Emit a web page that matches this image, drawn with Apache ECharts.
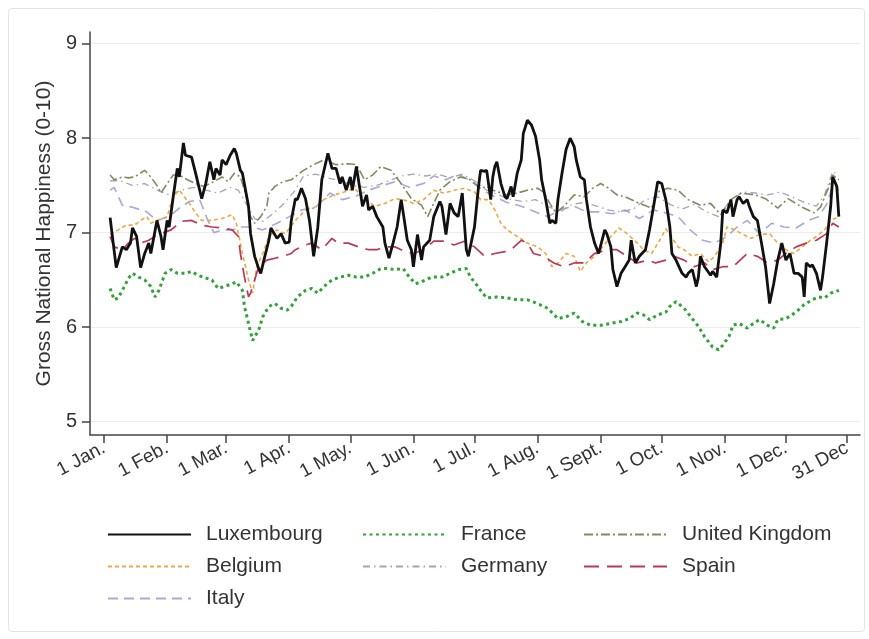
<!DOCTYPE html>
<html>
<head>
<meta charset="utf-8">
<script src="https://cdn.jsdelivr.net/npm/echarts@6/dist/echarts.min.js"></script>
<style>html,body{margin:0;padding:0;background:#fff}#c{width:869px;height:639px}</style>
</head>
<body>
<div id="c"></div>
<script>
// Day of year (0 = 1 Jan, leap year) -> Gross National Happiness (0-10)
const tickDays = [0, 31, 60, 91, 121, 152, 182, 213, 244, 274, 305, 335, 365];
const tickLabels = ['1 Jan.', '1 Feb.', '1 Mar.', '1 Apr.', '1 May.', '1 Jun.', '1 Jul.', '1 Aug.', '1 Sept.', '1 Oct.', '1 Nov.', '1 Dec.', '31 Dec'];
const yTicks = [5, 6, 7, 8, 9];

const luxembourg = [[3,7.16],[6,6.63],[9,6.85],[11,6.82],[13,6.89],[14,7.05],[16,6.96],[18,6.63],[20,6.78],[22,6.89],[23,6.78],[26,7.13],[28,6.96],[29,6.82],[31,7.13],[32,7.06],[34,7.38],[36,7.68],[37,7.59],[39,7.95],[40,7.82],[43,7.80],[45,7.63],[48,7.36],[50,7.52],[52,7.75],[54,7.56],[55,7.68],[57,7.61],[58,7.77],[60,7.72],[62,7.82],[64,7.89],[65,7.84],[67,7.66],[68,7.63],[71,7.28],[72,6.99],[74,6.75],[76,6.62],[77,6.57],[79,6.75],[81,6.92],[82,7.05],[85,6.94],[87,6.99],[89,6.89],[91,6.90],[92,7.13],[94,7.36],[95,7.35],[97,7.47],[99,7.36],[101,7.12],[103,6.75],[105,7.05],[107,7.56],[110,7.84],[112,7.68],[114,7.68],[116,7.52],[117,7.59],[119,7.45],[121,7.59],[122,7.45],[124,7.70],[125,7.56],[127,7.28],[129,7.40],[130,7.24],[132,7.28],[134,7.17],[137,7.06],[138,6.89],[140,6.73],[142,6.89],[144,7.06],[146,7.35],[147,7.21],[149,6.92],[151,6.82],[152,6.64],[154,6.98],[156,6.71],[157,6.85],[160,6.92],[162,7.17],[165,7.33],[166,7.28],[168,6.98],[170,7.31],[172,7.21],[174,7.17],[176,7.42],[178,6.82],[179,6.75],[182,7.06],[184,7.49],[185,7.66],[187,7.65],[188,7.66],[190,7.35],[191,7.59],[192,7.70],[193,7.75],[195,7.52],[197,7.38],[198,7.36],[200,7.49],[201,7.38],[203,7.63],[205,7.77],[206,8.05],[208,8.19],[210,8.14],[212,8.02],[214,7.77],[215,7.56],[217,7.35],[219,7.10],[220,7.13],[222,7.10],[223,7.35],[225,7.63],[227,7.88],[229,8.00],[231,7.91],[232,7.77],[234,7.59],[236,7.56],[237,7.35],[239,7.06],[241,6.89],[243,6.78],[246,7.03],[247,6.99],[249,6.85],[250,6.61],[252,6.43],[254,6.57],[256,6.64],[258,6.71],[259,6.92],[261,6.68],[263,6.75],[266,6.82],[268,7.03],[270,7.28],[272,7.54],[274,7.52],[276,7.35],[278,7.06],[279,6.78],[281,6.71],[284,6.57],[286,6.53],[287,6.57],[289,6.61],[291,6.43],[292,6.53],[293,6.75],[295,6.64],[296,6.61],[298,6.55],[299,6.59],[301,6.53],[303,6.89],[304,7.24],[306,7.21],[308,7.35],[309,7.17],[311,7.35],[312,7.38],[314,7.31],[316,7.35],[317,7.28],[319,7.17],[321,7.13],[323,6.89],[325,6.64],[327,6.25],[329,6.46],[331,6.71],[333,6.89],[335,6.71],[337,6.78],[339,6.57],[341,6.57],[343,6.53],[344,6.32],[345,6.68],[347,6.64],[348,6.66],[350,6.57],[352,6.39],[353,6.53],[355,6.89],[357,7.28],[358,7.59],[360,7.49],[361,7.17]];

const france = [[3,6.41],[5,6.29],[7,6.31],[10,6.43],[12,6.52],[14,6.57],[17,6.53],[20,6.50],[23,6.43],[25,6.32],[27,6.39],[30,6.57],[33,6.61],[36,6.57],[40,6.57],[43,6.59],[46,6.55],[50,6.52],[53,6.50],[56,6.41],[59,6.43],[63,6.46],[65,6.48],[68,6.39],[69,6.22],[71,6.04],[73,5.86],[76,5.97],[78,6.11],[81,6.22],[84,6.25],[87,6.20],[90,6.18],[92,6.22],[95,6.32],[99,6.39],[102,6.41],[105,6.36],[108,6.43],[112,6.50],[116,6.53],[120,6.55],[124,6.53],[128,6.53],[132,6.57],[136,6.62],[139,6.62],[143,6.61],[147,6.62],[150,6.53],[153,6.46],[156,6.48],[161,6.53],[166,6.53],[170,6.57],[174,6.61],[178,6.62],[180,6.53],[183,6.45],[186,6.36],[188,6.31],[193,6.32],[198,6.31],[203,6.29],[208,6.29],[213,6.25],[218,6.20],[223,6.09],[227,6.11],[231,6.15],[235,6.06],[239,6.02],[244,6.02],[249,6.04],[254,6.06],[258,6.09],[262,6.15],[265,6.13],[268,6.08],[272,6.13],[276,6.16],[278,6.22],[281,6.27],[285,6.20],[289,6.09],[292,6.01],[295,5.90],[299,5.79],[302,5.76],[304,5.81],[307,5.90],[309,6.02],[312,6.04],[316,5.99],[319,6.04],[322,6.08],[326,6.02],[329,5.99],[331,6.08],[335,6.09],[338,6.13],[341,6.18],[344,6.24],[348,6.29],[351,6.32],[354,6.31],[357,6.36],[361,6.39]];

const unitedKingdom = [[3,7.61],[5,7.56],[9,7.59],[12,7.58],[15,7.59],[20,7.66],[23,7.59],[26,7.50],[28,7.42],[31,7.52],[34,7.61],[37,7.61],[41,7.56],[45,7.52],[49,7.49],[54,7.54],[58,7.59],[61,7.54],[64,7.63],[67,7.59],[70,7.38],[72,7.17],[74,7.10],[77,7.17],[80,7.28],[81,7.42],[84,7.49],[88,7.54],[92,7.56],[98,7.66],[103,7.72],[108,7.77],[114,7.72],[120,7.73],[124,7.72],[128,7.56],[132,7.61],[136,7.70],[141,7.66],[146,7.52],[151,7.36],[156,7.29],[159,7.17],[162,7.31],[165,7.45],[170,7.54],[175,7.59],[180,7.56],[185,7.47],[188,7.49],[191,7.45],[198,7.40],[203,7.42],[208,7.45],[213,7.47],[216,7.43],[219,7.31],[222,7.21],[226,7.28],[231,7.40],[236,7.38],[240,7.47],[244,7.52],[248,7.47],[252,7.40],[256,7.38],[263,7.31],[269,7.26],[272,7.43],[277,7.47],[282,7.45],[287,7.35],[293,7.29],[298,7.31],[303,7.19],[308,7.35],[313,7.42],[320,7.40],[325,7.36],[331,7.26],[336,7.36],[343,7.27],[349,7.21],[352,7.27],[356,7.48],[358,7.61],[361,7.56]];

const belgium = [[3,6.98],[7,7.03],[11,7.08],[15,7.08],[18,7.13],[21,7.17],[23,7.10],[26,7.13],[31,7.17],[34,7.38],[37,7.45],[42,7.31],[45,7.21],[48,7.13],[53,7.13],[58,7.15],[63,7.19],[65,7.10],[68,6.78],[71,6.50],[73,6.36],[75,6.64],[78,6.78],[81,6.96],[85,7.03],[89,6.99],[94,7.13],[99,7.24],[103,7.26],[108,7.35],[113,7.40],[118,7.43],[123,7.47],[128,7.36],[133,7.28],[138,7.31],[143,7.36],[147,7.35],[152,7.31],[157,7.35],[162,7.45],[167,7.42],[172,7.45],[177,7.47],[182,7.43],[185,7.35],[189,7.35],[192,7.24],[195,7.10],[198,7.03],[203,6.96],[208,6.89],[213,6.85],[217,6.78],[220,6.64],[223,6.68],[227,6.78],[231,6.75],[234,6.59],[237,6.68],[241,6.75],[245,6.85],[249,6.96],[253,7.05],[257,6.99],[262,6.89],[265,6.82],[269,6.78],[273,6.92],[276,7.04],[279,6.95],[282,6.85],[285,6.82],[289,6.75],[293,6.78],[297,6.69],[300,6.75],[304,6.89],[306,7.06],[310,7.03],[314,6.98],[318,6.94],[322,6.98],[327,6.99],[331,6.89],[335,6.82],[339,6.78],[343,6.85],[347,6.92],[350,6.96],[354,7.03],[357,7.13],[361,7.17]];

const germany = [[3,7.55],[8,7.55],[14,7.50],[20,7.52],[26,7.45],[32,7.40],[38,7.45],[44,7.48],[50,7.45],[56,7.42],[62,7.48],[66,7.45],[70,7.30],[74,7.15],[78,7.12],[83,7.20],[88,7.30],[94,7.45],[98,7.60],[104,7.62],[110,7.58],[116,7.55],[122,7.50],[128,7.48],[134,7.50],[140,7.55],[146,7.60],[152,7.62],[158,7.60],[164,7.62],[170,7.58],[176,7.62],[182,7.55],[188,7.45],[194,7.40],[200,7.35],[206,7.33],[212,7.35],[218,7.28],[224,7.22],[230,7.30],[236,7.32],[242,7.28],[248,7.24],[254,7.22],[260,7.25],[266,7.35],[272,7.38],[278,7.30],[284,7.25],[290,7.30],[296,7.22],[302,7.17],[308,7.35],[314,7.43],[320,7.42],[326,7.40],[332,7.43],[338,7.38],[344,7.32],[350,7.28],[354,7.40],[358,7.65],[361,7.60]];

const spain = [[3,6.96],[5,6.85],[9,6.82],[12,6.89],[15,6.94],[18,6.89],[22,6.92],[25,6.96],[28,6.99],[33,7.03],[38,7.12],[43,7.13],[48,7.08],[53,7.06],[58,7.05],[63,7.03],[66,6.96],[67,6.78],[69,6.53],[71,6.32],[72,6.36],[74,6.50],[76,6.64],[80,6.71],[84,6.73],[88,6.75],[92,6.78],[94,6.82],[99,6.87],[102,6.89],[107,6.82],[112,6.94],[115,6.89],[120,6.89],[125,6.85],[130,6.82],[134,6.82],[138,6.85],[143,6.85],[148,6.80],[152,6.78],[157,6.82],[162,6.91],[167,6.91],[172,6.87],[177,6.91],[182,6.85],[187,6.75],[192,6.78],[197,6.80],[200,6.82],[205,6.92],[208,6.89],[211,6.78],[216,6.75],[221,6.68],[226,6.64],[231,6.68],[236,6.68],[241,6.78],[247,6.82],[252,6.82],[257,6.75],[262,6.68],[267,6.71],[271,6.68],[276,6.71],[280,6.75],[285,6.71],[290,6.64],[295,6.68],[299,6.61],[304,6.64],[309,6.64],[316,6.78],[321,6.75],[326,6.68],[331,6.71],[335,6.78],[340,6.85],[345,6.89],[350,6.92],[355,6.99],[358,7.10],[361,7.06]];

const italy = [[3,7.45],[5,7.48],[9,7.29],[14,7.27],[21,7.22],[26,7.13],[32,7.17],[37,7.26],[42,7.33],[47,7.35],[51,7.13],[54,7.00],[58,7.03],[63,7.03],[68,7.06],[73,7.06],[78,7.03],[85,7.10],[91,7.17],[97,7.24],[104,7.27],[111,7.42],[117,7.35],[123,7.38],[130,7.45],[137,7.50],[143,7.54],[150,7.48],[157,7.52],[162,7.60],[168,7.56],[174,7.62],[180,7.55],[186,7.45],[192,7.38],[198,7.32],[205,7.28],[212,7.22],[218,7.17],[225,7.25],[231,7.28],[237,7.22],[243,7.22],[250,7.20],[256,7.24],[263,7.15],[270,7.24],[276,7.21],[282,7.17],[288,7.03],[294,6.92],[300,6.89],[306,6.96],[311,7.06],[316,7.13],[322,6.99],[328,7.10],[334,7.06],[340,7.05],[346,7.13],[351,7.17],[355,7.30],[358,7.50],[361,7.45]];

const FONT = '"Liberation Sans", Arial, Helvetica, sans-serif';
const chart = echarts.init(document.getElementById('c'), null, {renderer: 'canvas'});

function ser(name, data, color, width, type, z) {
  return {
    name: name, type: 'line', data: data, symbol: 'none', showSymbol: false, smooth: false, z: z,
    lineStyle: {color: color, width: width, type: type, cap: 'butt'},
    itemStyle: {color: color},
    emphasis: {disabled: true},
    animation: false
  };
}

const legendCommon = {
  orient: 'vertical', itemWidth: 83, itemHeight: 14, itemGap: 11, top: 519,
  itemStyle: {opacity: 0, borderWidth: 0},
  textStyle: {fontFamily: FONT, fontSize: 21, color: '#333', padding: [0, 0, 0, 10]},
  selectedMode: false
};

chart.setOption({
  backgroundColor: '#fff',
  animation: false,
  graphic: [{type: 'rect', shape: {x: 8.5, y: 8.5, width: 856, height: 623, r: 3}, style: {fill: 'none', stroke: '#e4e4e4', lineWidth: 1}, silent: true}],
  grid: {left: 90, right: 9, top: 32, bottom: 204, containLabel: false},
  xAxis: {
    type: 'value', min: -6.88, max: 371.4,
    axisLine: {show: true, onZero: false, lineStyle: {color: '#444', width: 1.5}},
    axisTick: {show: true, length: 8, customValues: tickDays, lineStyle: {color: '#444', width: 1.5}},
    axisLabel: {customValues: tickDays, rotate: 28, fontSize: 19, fontFamily: FONT, color: '#333', margin: 12,
      formatter: function (v) { const i = tickDays.indexOf(v); return i >= 0 ? tickLabels[i] : ''; }},
    splitLine: {show: false}
  },
  yAxis: {
    type: 'value', min: 4.859, max: 9.124,
    name: 'Gross National Happiness (0-10)', nameLocation: 'middle', nameGap: 26, nameRotate: 90,
    nameTextStyle: {fontFamily: FONT, fontSize: 21, color: '#333'},
    axisLine: {show: true, onZero: false, lineStyle: {color: '#444', width: 1.5}},
    axisTick: {show: true, length: 8, customValues: yTicks, lineStyle: {color: '#444', width: 1.5}},
    axisLabel: {customValues: yTicks, fontSize: 20, fontFamily: FONT, color: '#333', margin: 13},
    splitLine: {show: true, lineStyle: {color: '#ececec', width: 1}}
  },
  legend: [
    Object.assign({left: 102, data: ['Luxembourg', 'Belgium', 'Italy']}, legendCommon),
    Object.assign({left: 357, data: ['France', 'Germany']}, legendCommon),
    Object.assign({left: 578, data: ['United Kingdom', 'Spain']}, legendCommon)
  ],
  series: [
    ser('Italy', italy, '#a9a8d6', 1.6, [10, 6], 2),
    ser('Germany', germany, '#a3a6b6', 1.3, [7, 4, 1.5, 4], 2),
    ser('Belgium', belgium, '#e6a94c', 1.6, [4, 3], 3),
    ser('United Kingdom', unitedKingdom, '#7f8c62', 1.6, [9, 3, 2, 3], 3),
    ser('Spain', spain, '#b9395c', 1.7, [15, 8], 4),
    ser('France', france, '#34a03c', 3, [3, 3.5], 5),
    ser('Luxembourg', luxembourg, '#111111', 2.8, 'solid', 6)
  ]
});
</script>
</body>
</html>
